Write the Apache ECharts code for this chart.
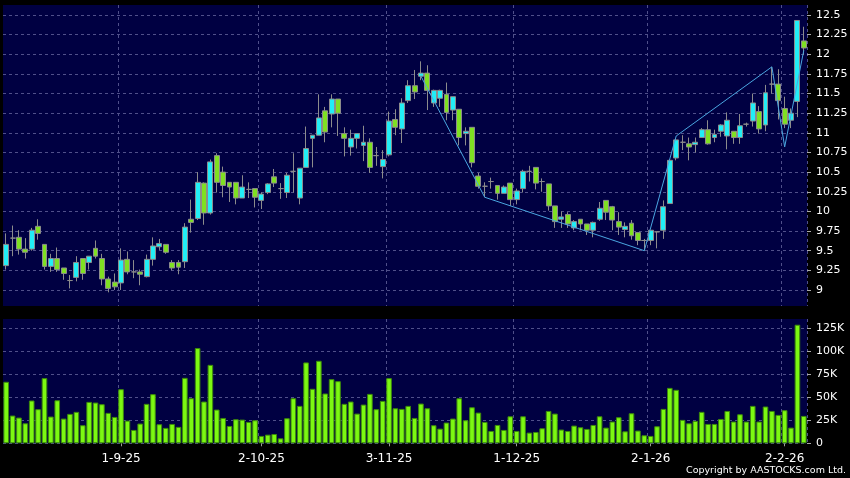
<!DOCTYPE html>
<html><head><meta charset="utf-8">
<script src="https://cdn.jsdelivr.net/npm/echarts@6/dist/echarts.min.js"></script>
<style>html,body{margin:0;padding:0;background:#000;}#c{width:850px;height:478px;}</style>
</head><body><div id="c"></div>
<script>
// ---- data ----
const dates = [
'6-8-25','7-8-25','8-8-25','11-8-25','12-8-25','13-8-25','14-8-25','15-8-25','18-8-25','19-8-25','20-8-25','21-8-25','22-8-25','25-8-25','26-8-25','27-8-25','28-8-25','29-8-25',
'1-9-25','2-9-25','3-9-25','4-9-25','5-9-25','8-9-25','9-9-25','10-9-25','11-9-25','12-9-25','15-9-25','16-9-25','17-9-25','18-9-25','19-9-25','22-9-25','23-9-25','24-9-25','25-9-25','26-9-25','29-9-25','30-9-25',
'2-10-25','3-10-25','6-10-25','8-10-25','9-10-25','10-10-25','13-10-25','14-10-25','15-10-25','16-10-25','17-10-25','20-10-25','21-10-25','22-10-25','23-10-25','24-10-25','27-10-25','28-10-25','30-10-25','31-10-25',
'3-11-25','4-11-25','5-11-25','6-11-25','7-11-25','10-11-25','11-11-25','12-11-25','13-11-25','14-11-25','17-11-25','18-11-25','19-11-25','20-11-25','21-11-25','24-11-25','25-11-25','26-11-25','27-11-25','28-11-25',
'1-12-25','2-12-25','3-12-25','4-12-25','5-12-25','8-12-25','9-12-25','10-12-25','11-12-25','12-12-25','15-12-25','16-12-25','17-12-25','18-12-25','19-12-25','22-12-25','23-12-25','24-12-25','29-12-25','30-12-25','31-12-25',
'2-1-26','5-1-26','6-1-26','7-1-26','8-1-26','9-1-26','12-1-26','13-1-26','14-1-26','15-1-26','16-1-26','19-1-26','20-1-26','21-1-26','22-1-26','23-1-26','26-1-26','27-1-26','28-1-26','29-1-26','30-1-26',
'2-2-26','3-2-26','4-2-26','5-2-26'];

// [open, close, low, high]
const ohlc = [
[9.31,9.58,9.26,9.72],[9.66,9.66,9.43,9.82],[9.67,9.52,9.45,9.76],[9.52,9.48,9.40,9.66],[9.52,9.76,9.50,9.79],
[9.81,9.72,9.64,9.90],[9.58,9.30,9.26,9.58],[9.30,9.40,9.23,9.46],[9.40,9.26,9.23,9.54],[9.28,9.21,9.13,9.28],
[9.12,9.12,9.02,9.19],[9.16,9.35,9.11,9.43],[9.40,9.21,9.13,9.40],[9.35,9.43,9.26,9.43],[9.53,9.43,9.40,9.63],
[9.40,9.14,9.06,9.46],[9.14,9.02,8.97,9.17],[9.10,9.04,9.00,9.21],[9.09,9.38,9.00,9.53],[9.39,9.23,9.20,9.49],
[9.23,9.23,9.15,9.38],[9.23,9.20,9.06,9.26],[9.17,9.39,9.16,9.45],[9.39,9.56,9.31,9.67],[9.55,9.59,9.51,9.65],
[9.58,9.48,9.46,9.58],[9.35,9.28,9.25,9.38],[9.35,9.29,9.20,9.38],[9.36,9.80,9.28,9.85],[9.90,9.86,9.73,10.15],
[9.91,10.37,9.89,10.50],[10.36,9.98,9.83,10.37],[9.98,10.63,9.96,10.66],[10.71,10.37,10.24,10.74],[10.50,10.33,10.18,10.57],
[10.37,10.31,10.12,10.37],[10.37,10.17,10.09,10.37],[10.17,10.31,10.17,10.46],[10.28,10.28,10.17,10.37],[10.29,10.18,10.05,10.29],
[10.14,10.22,10.03,10.24],[10.24,10.35,10.22,10.36],[10.44,10.36,10.31,10.54],[10.29,10.29,10.16,10.36],[10.24,10.46,10.17,10.49],
[10.51,10.51,10.24,10.74],[10.17,10.55,10.09,10.55],[10.56,10.80,10.56,11.08],[10.93,10.97,10.56,10.97],[10.97,11.19,10.97,11.49],
[11.28,11.01,10.88,11.33],[11.24,11.43,11.07,11.49],[11.43,11.25,10.96,11.43],[10.99,10.93,10.70,11.07],[10.82,10.93,10.71,11.04],
[10.93,10.99,10.80,10.99],[10.84,10.88,10.64,11.09],[10.88,10.56,10.49,10.93],[10.71,10.71,10.58,10.82],[10.57,10.66,10.42,10.78],
[10.72,11.15,10.70,11.27],[11.17,11.07,10.97,11.30],[11.05,11.38,10.87,11.44],[11.41,11.60,11.38,11.67],[11.60,11.52,11.43,11.80],
[11.72,11.76,11.67,11.91],[11.76,11.54,11.29,11.86],[11.38,11.54,11.33,11.55],[11.44,11.54,11.33,11.55],[11.49,11.26,11.16,11.64],
[11.29,11.46,11.16,11.46],[11.30,10.94,10.84,11.30],[10.99,11.02,10.84,11.07],[11.07,10.62,10.56,11.07],[10.45,10.32,10.29,10.49],
[10.32,10.32,10.18,10.37],[10.38,10.38,10.29,10.43],[10.33,10.23,10.15,10.33],[10.23,10.31,10.23,10.33],[10.36,10.15,10.07,10.36],
[10.15,10.26,10.09,10.29],[10.29,10.51,10.24,10.53],[10.51,10.51,10.38,10.58],[10.56,10.36,10.28,10.56],[10.38,10.38,10.25,10.42],
[10.35,10.07,10.01,10.35],[10.07,9.87,9.79,10.07],[9.90,9.93,9.79,10.00],[9.96,9.84,9.79,9.99],[9.79,9.87,9.76,9.89],
[9.90,9.84,9.76,9.90],[9.84,9.76,9.70,9.84],[9.76,9.86,9.67,9.87],[9.90,10.04,9.88,10.12],[10.14,9.99,9.89,10.14],
[10.06,9.89,9.76,10.07],[9.87,9.80,9.70,9.99],[9.77,9.81,9.67,9.86],[9.85,9.69,9.64,9.89],[9.73,9.63,9.57,9.73],
[9.63,9.63,9.50,9.65],[9.63,9.76,9.57,9.76],[9.74,9.74,9.53,9.74],[9.76,10.06,9.65,10.14],[10.10,10.65,10.10,10.66],
[10.68,10.91,10.65,10.92],[10.88,10.88,10.78,10.97],[10.86,10.82,10.65,10.94],[10.85,10.88,10.75,10.94],[10.94,11.04,10.94,11.06],
[11.04,10.86,10.85,11.16],[10.94,10.98,10.88,11.04],[11.02,11.10,10.95,11.11],[10.96,11.16,10.79,11.26],[11.02,10.94,10.86,11.02],
[10.94,11.09,10.86,11.24],[11.11,11.11,11.08,11.13],[11.15,11.38,11.08,11.50],[11.27,11.05,10.99,11.34],[11.10,11.51,11.02,11.61],
[11.62,11.62,11.50,11.84],[11.62,11.41,11.17,11.81],[11.31,11.11,11.06,11.46],[11.16,11.25,11.06,11.31],[11.40,12.43,11.20,12.43],
[12.17,12.08,11.99,12.35]];

// volume in thousands
const volumeK = [
66.7,30.1,27.9,21.7,46.4,37.0,70.7,29.0,46.7,26.8,
31.9,34.1,19.6,44.9,44.2,42.4,33.0,28.6,58.7,24.6,
14.5,21.4,42.8,53.3,20.7,16.7,21.0,17.8,71.0,48.9,
103.3,45.3,85.1,36.6,27.5,18.8,26.1,25.7,23.2,25.0,
8.0,9.4,10.1,5.4,27.2,48.9,40.6,87.7,59.1,89.5,
54.0,69.6,67.4,42.8,45.3,32.2,42.0,53.6,37.0,46.0,
70.7,38.0,37.3,40.6,27.5,43.1,38.0,19.6,15.9,22.5,
26.8,48.9,25.0,39.1,33.3,23.2,13.4,19.9,14.5,29.3,
13.4,29.3,11.6,12.3,16.3,35.1,32.2,14.9,13.4,19.2,
17.4,15.6,19.9,29.3,17.0,23.6,28.3,13.0,32.6,13.8,
8.7,8.0,18.5,37.3,60.1,58.0,25.4,21.7,24.3,34.1,
21.0,21.0,26.4,35.1,23.6,31.5,23.6,40.6,23.6,39.9,
35.1,30.8,35.9,17.0,128.6,29.7];

const zigzagDates = ['10-11-25','24-11-25','31-12-25','8-1-26','29-1-26','2-2-26','5-2-26'];
const zigzagValues = [11.72,10.18,9.50,10.96,11.84,10.82,12.05];

const monthLabels = ['1-9-25','2-10-25','3-11-25','1-12-25','2-1-26','2-2-26'];
const priceTicks = [9,9.25,9.5,9.75,10,10.25,10.5,10.75,11,11.25,11.5,11.75,12,12.25,12.5];
const volumeTicks = [0,25,50,75,100,125];

// ---- chart ----
const chart = echarts.init(document.getElementById('c'), null, {renderer:'canvas'});
const FONT = 'DejaVu Sans';
const gridLine = {color:'#50508a', type:[3,3], width:1};
const isMonthIdx = (i) => monthLabels.indexOf(dates[i]) >= 0;

chart.setOption({
  backgroundColor:'#000000',
  animation:false,
  grid:[
    {left:3, right:43, top:5, height:301, show:true, backgroundColor:'#000042', borderWidth:0, outerBoundsMode:'none'},
    {left:3, right:43, top:319, height:124.3, show:true, backgroundColor:'#000042', borderWidth:0, outerBoundsMode:'none'}
  ],
  xAxis:[
    {type:'category', gridIndex:0, data:dates, boundaryGap:true,
     axisLine:{show:false}, axisTick:{show:false}, axisLabel:{show:false},
     splitLine:{show:true, interval:isMonthIdx, lineStyle:gridLine}},
    {type:'category', gridIndex:1, data:dates, boundaryGap:true,
     axisLine:{show:false},
     axisTick:{show:true, alignWithLabel:true, interval:isMonthIdx, length:3, lineStyle:{color:'#9a9a9a'}},
     axisLabel:{show:true, interval:isMonthIdx, color:'#ffffff', fontFamily:FONT, fontSize:12, margin:10, hideOverlap:false},
     splitLine:{show:true, interval:isMonthIdx, lineStyle:gridLine}}
  ],
  yAxis:[
    {type:'value', gridIndex:0, position:'right', min:8.796, max:12.627, scale:true,
     axisLine:{show:false},
     axisTick:{show:true, length:4, customValues:priceTicks, lineStyle:{color:'#aaaaaa'}},
     axisLabel:{customValues:priceTicks, color:'#ffffff', fontFamily:FONT, fontSize:11, margin:9,
                formatter:(v)=>String(+v.toFixed(2))},
     splitLine:{show:true, lineStyle:gridLine}},
    {type:'value', gridIndex:1, position:'right', min:0, max:134.8,
     axisLine:{show:false},
     axisTick:{show:true, length:4, customValues:volumeTicks, lineStyle:{color:'#aaaaaa'}},
     axisLabel:{customValues:volumeTicks, color:'#ffffff', fontFamily:FONT, fontSize:11, margin:9,
                formatter:(v)=> v===0 ? '0' : v+'K'},
     splitLine:{show:true, lineStyle:gridLine}}
  ],
  series:[
    {type:'candlestick', xAxisIndex:0, yAxisIndex:0, data:ohlc, barWidth:5.4,
     itemStyle:{color:'#22eef6', color0:'#7fe022', borderColor:'#8c8c8c', borderColor0:'#8c8c8c', borderColorDoji:'#8c8c8c', borderWidth:1}},
    {type:'line', xAxisIndex:0, yAxisIndex:0, data:zigzagDates.map((d,i)=>[d, zigzagValues[i]]),
     symbol:'none', lineStyle:{color:'#4aa6e0', width:1}, z:5},
    {type:'bar', xAxisIndex:1, yAxisIndex:1, data:volumeK, barWidth:5.6,
     itemStyle:{color:'#7cf812', borderColor:'#3d8a0c', borderWidth:1}}
  ],
  graphic:[
    {type:'text', right:4, bottom:2, style:{text:'Copyright by AASTOCKS.com Ltd.', fill:'#ffffff', font:'9.5px "DejaVu Sans"'}}
  ]
});
</script>
</body></html>
